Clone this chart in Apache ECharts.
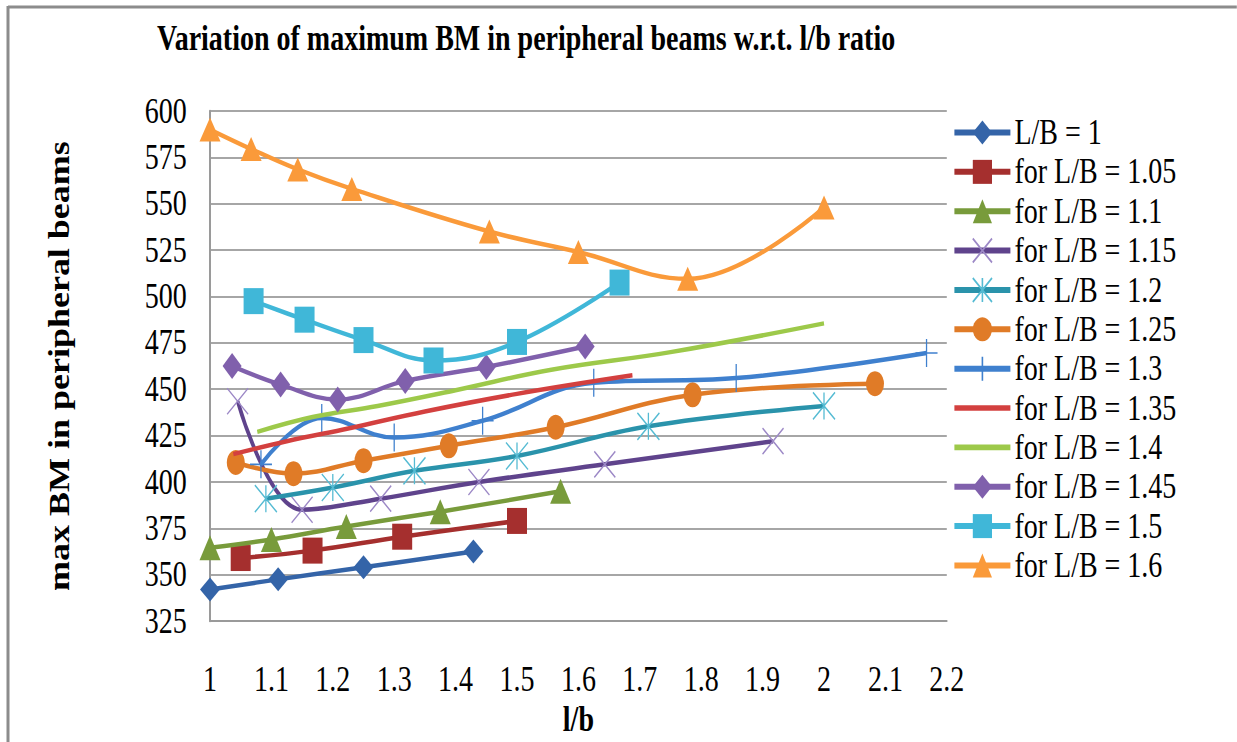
<!DOCTYPE html>
<html>
<head>
<meta charset="utf-8">
<title>Variation of maximum BM in peripheral beams w.r.t. l/b ratio</title>
<script src="https://cdn.jsdelivr.net/npm/echarts@6/dist/echarts.min.js"></script>
<style>
  html, body { margin: 0; padding: 0; background: #fff; overflow: hidden; }
  #chart { height: 742px; transform-origin: 0 0; }
</style>
</head>
<body>
<div id="chart"></div>
<script>
// l/b ratio (x) and maximum BM in peripheral beams (y) for each plan ratio L/B
const lb1 = [1.0, 1.111, 1.25, 1.429];
const bm1 = [342, 347.5, 354, 362.5];
const lb105 = [1.05, 1.167, 1.313, 1.5];
const bm105 = [359, 363, 370.5, 379];
const lb110 = [1.0, 1.1, 1.222, 1.375, 1.571];
const bm110 = [364.5, 369, 376, 384, 395];
const lb115 = [1.045, 1.15, 1.278, 1.438, 1.643, 1.917];
const bm115 = [443.5, 385, 391, 400, 409.5, 422];
const lb120 = [1.091, 1.2, 1.333, 1.5, 1.714, 2.0];
const bm120 = [391, 397, 406, 414, 430, 441];
const lb125 = [1.042, 1.136, 1.25, 1.389, 1.563, 1.786, 2.083];
const bm125 = [410.5, 404.5, 411.5, 419.5, 429.5, 447, 453];
const lb130 = [1.083, 1.182, 1.3, 1.444, 1.625, 1.857, 2.167];
const bm130 = [409.5, 434.5, 424, 433, 453.5, 456, 469.5];
const lb135 = [1.038, 1.125, 1.227, 1.35, 1.5, 1.688];
const bm135 = [415, 422, 429, 438, 447.5, 457.5];
const lb140 = [1.077, 1.167, 1.273, 1.4, 1.556, 1.75, 2.0];
const bm140 = [427, 435, 441, 449.5, 460.5, 470, 485.5];
const lb145 = [1.036, 1.115, 1.208, 1.318, 1.45, 1.611];
const bm145 = [462.5, 452.5, 444.5, 454.5, 462, 473];
const lb150 = [1.071, 1.154, 1.25, 1.364, 1.5, 1.667];
const bm150 = [497.5, 487.5, 476.5, 465.5, 475.5, 507.5];
const lb160 = [1.0, 1.067, 1.143, 1.231, 1.455, 1.6, 1.778, 2.0];
const bm160 = [590, 579.5, 568.5, 558, 535, 524, 509.5, 548];

const seriesNames = [
  'L/B = 1', 'for L/B = 1.05', 'for L/B = 1.1', 'for L/B = 1.15',
  'for L/B = 1.2', 'for L/B = 1.25', 'for L/B = 1.3', 'for L/B = 1.35',
  'for L/B = 1.4', 'for L/B = 1.45', 'for L/B = 1.5', 'for L/B = 1.6'
];
const xValues = [lb1, lb105, lb110, lb115, lb120, lb125, lb130, lb135, lb140, lb145, lb150, lb160];
const yValues = [bm1, bm105, bm110, bm115, bm120, bm125, bm130, bm135, bm140, bm145, bm150, bm160];

const xTickLabels = ['1', '1.1', '1.2', '1.3', '1.4', '1.5', '1.6', '1.7', '1.8', '1.9', '2', '2.1', '2.2'];
const yTickLabels = ['325', '350', '375', '400', '425', '450', '475', '500', '525', '550', '575', '600'];

const titleText = 'Variation of maximum BM in peripheral beams w.r.t. l/b ratio';
const xAxisTitle = 'l/b';
const yAxisTitle = 'max BM in peripheral beams';

// The chart is laid out wide and then condensed horizontally by S,
// which gives the tall, narrow lettering and markers of the figure.
const S = 1.25;
const W = 1237, H = 742;
const FONT = '"Liberation Serif", "Times New Roman", serif';

const el = document.getElementById('chart');
el.style.width = (W * S) + 'px';
el.style.transform = 'scaleX(' + (1 / S) + ')';

// line colour, marker colour and marker shape per series
const styles = [
  { line: '#3464A8', mark: '#3464A8', symbol: 'diamond', w: 20, h: 24 },
  { line: '#A52F2E', mark: '#A52F2E', symbol: 'rect', w: 20, h: 26 },
  { line: '#789B3B', mark: '#789B3B', symbol: 'triangle', w: 21, h: 25 },
  { line: '#5F438C', mark: '#9C88C6', symbol: 'path://M0,0L10,10M10,0L0,10', w: 21, h: 26, stroke: true },
  { line: '#2A93AB', mark: '#55BBD3', symbol: 'path://M5,0L5,10M0,0L10,10M10,0L0,10', w: 22, h: 27, stroke: true },
  { line: '#E07B27', mark: '#E07B27', symbol: 'circle', w: 18, h: 25 },
  { line: '#3F80CE', mark: '#3F80CE', symbol: 'path://M5,0L5,10M0,5L10,5', w: 22, h: 28, stroke: true },
  { line: '#D3403F', symbol: 'none' },
  { line: '#9DC94A', symbol: 'none' },
  { line: '#8060AC', mark: '#8060AC', symbol: 'diamond', w: 19, h: 26 },
  { line: '#40B7D8', mark: '#40B7D8', symbol: 'rect', w: 20, h: 26 },
  { line: '#FA9A3A', mark: '#FA9A3A', symbol: 'triangle', w: 21, h: 24 }
];

const series = seriesNames.map((name, i) => {
  const st = styles[i];
  const data = xValues[i].map((x, j) => [x, yValues[i][j]]);
  const s = {
    name: name,
    type: 'line',
    data: data,
    smooth: 0.4,
    symbol: st.symbol,
    lineStyle: { color: st.line, width: 4.5 },
    emphasis: { disabled: true },
    z: 2 + i
  };
  if (st.symbol !== 'none') {
    s.symbolSize = [st.w * S, st.h];
    s.showSymbol = true;
    s.itemStyle = st.stroke
      ? { color: 'rgba(255,255,255,0)', borderColor: st.mark, borderWidth: 1.6 }
      : { color: st.mark, borderWidth: 0 };
  } else {
    s.itemStyle = { color: st.line };
  }
  return s;
});

// legend entries: series without markers show a plain bar of the line colour
const legendData = seriesNames.map((name, i) =>
  styles[i].symbol === 'none'
    ? { name: name, icon: 'path://M0,0L10,0L10,0.8L0,0.8Z' }
    : { name: name }
);

const chart = echarts.init(el, null, { renderer: 'svg' });

chart.setOption({
  animation: false,
  backgroundColor: '#ffffff',
  textStyle: { fontFamily: FONT },
  title: {
    text: titleText,
    left: 153 * S,
    top: 16,
    textStyle: { fontFamily: FONT, fontWeight: 'bold', fontSize: 35, color: '#000' }
  },
  legend: {
    orient: 'vertical',
    left: 948 * S,
    top: 110,
    itemWidth: 56 * S,
    itemHeight: 30,
    itemGap: 4.36,
    data: legendData,
    selectedMode: false,
    lineStyle: { width: 6 },
    textStyle: { fontFamily: FONT, fontSize: 35, lineHeight: 35, color: '#000' }
  },
  grid: {
    left: 210 * S,
    right: (W - 947) * S,
    top: 111,
    bottom: H - 625
  },
  xAxis: {
    type: 'value',
    min: 1,
    max: 2.2,
    interval: 0.1,
    name: xAxisTitle,
    nameLocation: 'middle',
    nameGap: 80,
    nameTextStyle: { fontFamily: FONT, fontWeight: 'bold', fontSize: 35, color: '#000' },
    axisLine: { show: true, lineStyle: { color: '#9a9a9a', width: 2 } },
    axisTick: { show: false },
    splitLine: { show: false },
    axisLabel: {
      margin: 41,
      fontFamily: FONT,
      fontSize: 35,
      color: '#000',
      formatter: (v, i) => xTickLabels[i]
    }
  },
  yAxis: {
    type: 'value',
    min: 325,
    max: 600,
    interval: 25,
    name: yAxisTitle,
    nameLocation: 'middle',
    nameGap: 170,
    nameTextStyle: { fontFamily: FONT, fontWeight: 'bold', fontSize: 36, color: '#000' },
    axisLine: { show: true, lineStyle: { color: '#9a9a9a', width: 2 * S } },
    axisTick: { show: false },
    splitLine: { show: true, lineStyle: { color: '#a6a6a6', width: 2 } },
    axisLabel: {
      margin: 29,
      fontFamily: FONT,
      fontSize: 35,
      color: '#000',
      formatter: (v, i) => yTickLabels[i]
    }
  },
  graphic: [
    { type: 'line', shape: { x1: 8 * S, y1: 6, x2: 8 * S, y2: H }, style: { stroke: '#8c8c8c', lineWidth: 3 * S }, silent: true },
    { type: 'line', shape: { x1: 8 * S, y1: 7, x2: W * S, y2: 7 }, style: { stroke: '#8c8c8c', lineWidth: 3 }, silent: true }
  ],
  series: series
});
</script>
</body>
</html>
